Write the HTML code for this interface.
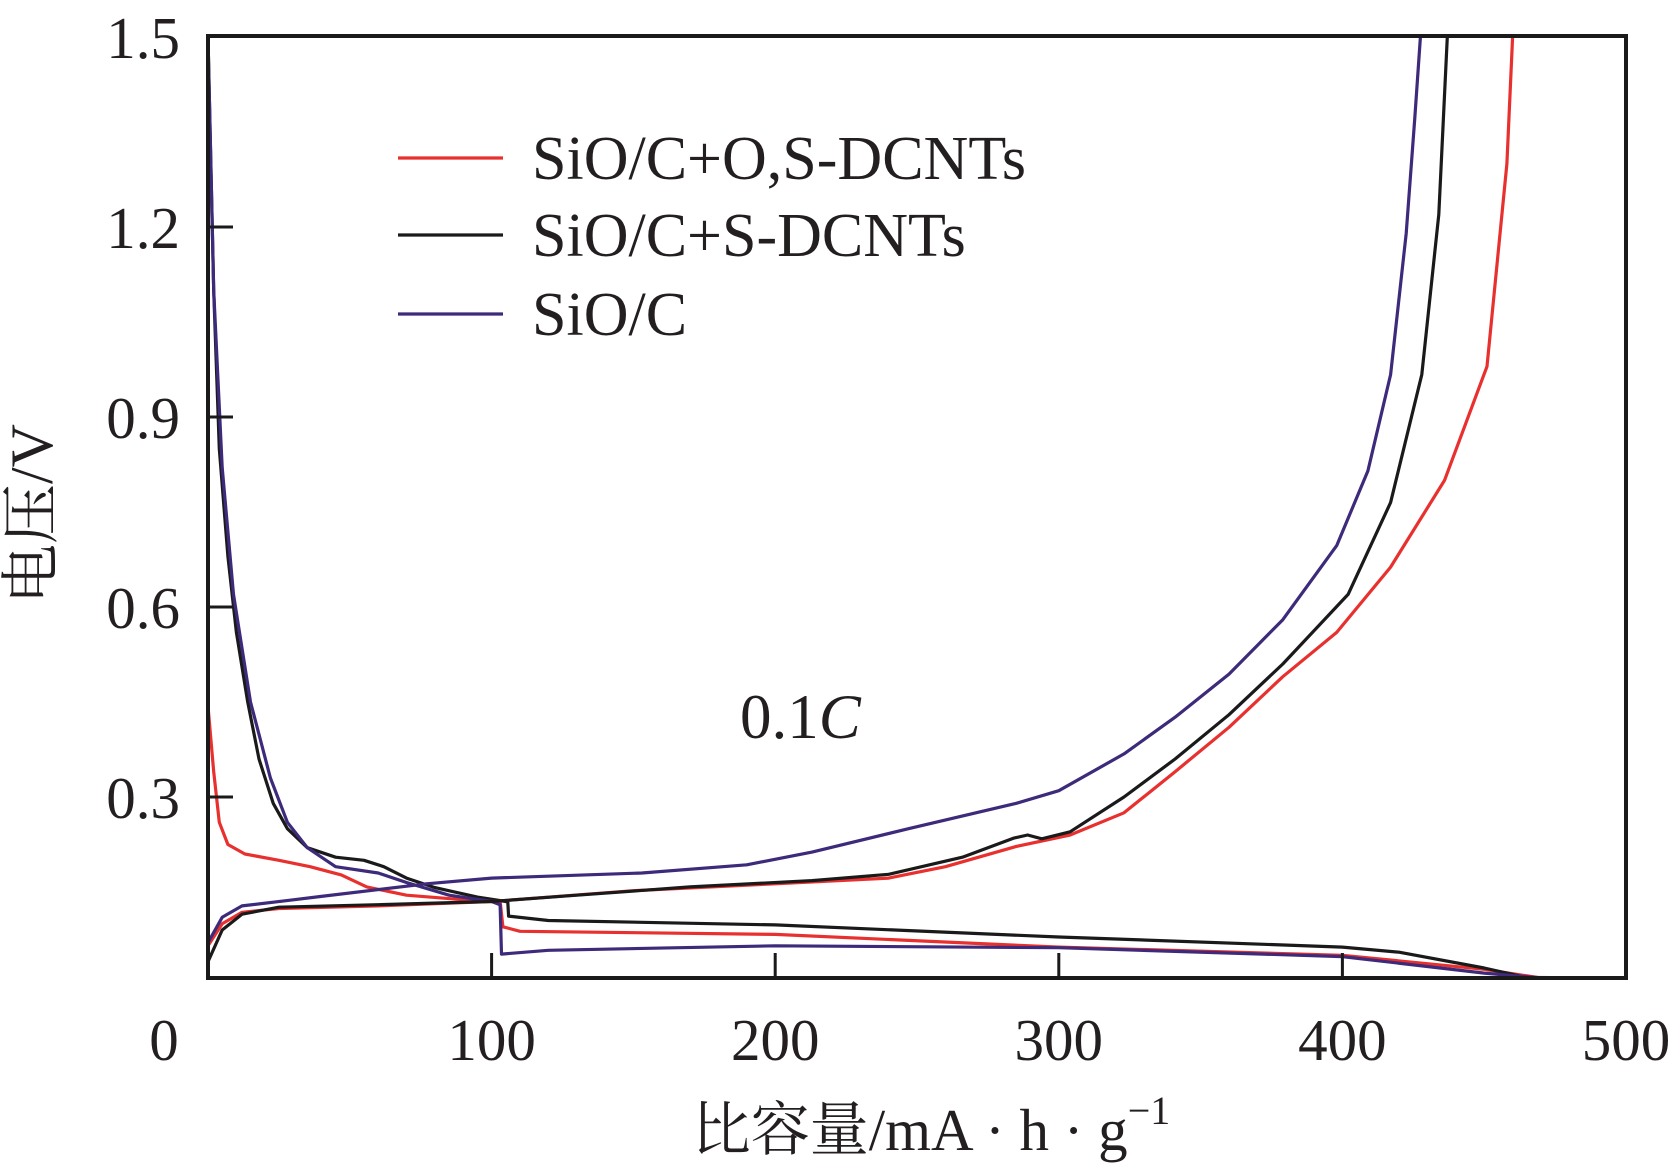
<!DOCTYPE html>
<html><head><meta charset="utf-8"><style>
body{margin:0;background:#fff}
svg text{font-family:"Liberation Serif","Noto Serif CJK SC",serif;fill:#231f20}
</style></head><body>
<svg id="chart" width="1678" height="1167" viewBox="0 0 1678 1167" xmlns="http://www.w3.org/2000/svg" style="position:absolute;left:0;top:0">
<g id="plot"></g>
<g id="axes"></g>
</svg>
<script>
const xTicks=[0,100,200,300,400,500];
const yTicks=[0.3,0.6,0.9,1.2,1.5];
const yTickLabels=["0.3","0.6","0.9","1.2","1.5"];
const redDis=[[0,0.443],[2,0.34],[4,0.26],[7,0.225],[13,0.21],[25,0.2],[36,0.19],[47,0.177],[56,0.158],[70,0.145],[92,0.137],[103,0.136],[104,0.095],[110,0.088],[200,0.083],[300,0.063],[400,0.05],[450,0.028],[470,0.012],[500,0.012]];
const blackDis=[[0,1.5],[2,1.1],[4,0.85],[7,0.68],[10,0.56],[14,0.45],[18,0.36],[23,0.29],[28,0.25],[35,0.22],[45,0.205],[55,0.2],[62,0.19],[70,0.172],[80,0.157],[95,0.142],[105,0.135],[105.7,0.134],[106,0.112],[120,0.105],[200,0.098],[300,0.079],[400,0.063],[420,0.055],[450,0.03],[465,0.015],[500,0.012]];
const purpleDis=[[0,1.5],[2,1.1],[5,0.82],[9,0.62],[15,0.45],[22,0.33],[28,0.26],[35,0.22],[45,0.19],[60,0.18],[70,0.165],[85,0.145],[100,0.135],[103,0.13],[103.5,0.052],[120,0.058],[200,0.065],[300,0.062],[400,0.048],[450,0.022],[470,0.012],[500,0.012]];
const redChg=[[0,0.065],[5,0.1],[12,0.118],[25,0.124],[60,0.128],[100,0.135],[150,0.152],[200,0.163],[240,0.172],[260,0.19],[285,0.222],[304,0.24],[323,0.275],[341,0.34],[360,0.41],[379,0.49],[398,0.56],[417,0.663],[436,0.8],[451,0.98],[458,1.3],[460,1.5]];
const blackChg=[[0,0.04],[5,0.09],[12,0.115],[25,0.126],[60,0.13],[100,0.135],[130,0.145],[170,0.158],[213,0.168],[240,0.178],[266,0.205],[284,0.235],[289,0.24],[294,0.234],[304,0.245],[323,0.3],[341,0.36],[360,0.43],[379,0.51],[402,0.62],[417,0.765],[428,0.967],[434,1.22],[437,1.5]];
const purpleChg=[[0,0.07],[5,0.11],[12,0.128],[29,0.137],[40,0.143],[77,0.163],[100,0.172],[153,0.18],[190,0.193],[213,0.213],[247,0.25],[285,0.29],[300,0.31],[323,0.368],[341,0.426],[360,0.494],[379,0.58],[398,0.697],[409,0.815],[417,0.967],[422.5,1.19],[425.5,1.37],[427.5,1.5]];
const seriesNames=["SiO/C+O,S-DCNTs","SiO/C+S-DCNTs","SiO/C"];
const seriesColors=["#e8312f","#1a1a1a","#3d2a7a"];

const L=208,R=1626,T=36,B=978;
const X=c=>L+(c/500)*(R-L);
const Y=v=>987-v*633.3;
const NS="http://www.w3.org/2000/svg";
const plot=document.getElementById('plot'),axes=document.getElementById('axes');
function mk(tag,attrs,parent){const e=document.createElementNS(NS,tag);for(const k in attrs)e.setAttribute(k,attrs[k]);parent.appendChild(e);return e;}
function line(data,color,name){
  const d=data.map((p,i)=>(i?'L':'M')+X(p[0]).toFixed(1)+','+Math.max(T,Math.min(B,Y(p[1]))).toFixed(1)).join(' ');
  const p=mk('path',{d:d,fill:'none',stroke:color,'stroke-width':3.2,'stroke-linejoin':'round'},plot);
  
  
}
line(redDis,seriesColors[0],'red-discharge-curve');
line(blackDis,seriesColors[1],'black-discharge-curve');
line(purpleDis,seriesColors[2],'purple-discharge-curve');
line(redChg,seriesColors[0],'red-charge-curve');
line(blackChg,seriesColors[1],'black-charge-curve');
line(purpleChg,seriesColors[2],'purple-charge-curve');

const fr=mk('rect',{x:L,y:T,width:R-L,height:B-T,fill:'none',stroke:'#1a1a1a','stroke-width':4},axes);


xTicks.forEach(t=>{
  if(t>0&&t<500){const tk=mk('line',{x1:X(t),x2:X(t),y1:B,y2:B-25,stroke:'#1a1a1a','stroke-width':3},axes);
  
  }
  const tx=mk('text',{x:t===0?164:X(t),y:1060,'font-size':59,'text-anchor':'middle'},axes);
  tx.textContent=String(t);
  
  
});
yTicks.forEach((t,i)=>{
  if(t<1.5){const tk=mk('line',{x1:L,x2:L+25,y1:Y(t),y2:Y(t),stroke:'#1a1a1a','stroke-width':3},axes);
  
  }
  const tx=mk('text',{x:180,y:Y(t)+21,'font-size':59,'text-anchor':'end'},axes);
  tx.textContent=yTickLabels[i];
  
  
});
const legY=[158,235,314];
seriesNames.forEach((n,i)=>{
  const ln=mk('line',{x1:398,x2:503,y1:legY[i],y2:legY[i],stroke:seriesColors[i],'stroke-width':3.2},axes);
  
  
  const tx=mk('text',{x:532,y:legY[i]+21,'font-size':62},axes);
  tx.textContent=n;
  
  
});
</script>
<svg style="position:absolute;left:0;top:0" width="1678" height="1167">
<text x="740" y="738" font-size="63" style="font-family:'Liberation Serif',serif;fill:#231f20">0.1<tspan font-style="italic">C</tspan></text>
<text transform="translate(52,514) rotate(-90)" text-anchor="middle" font-size="60" style="font-family:'Liberation Serif','Noto Serif CJK SC',serif;fill:#231f20">电压/V</text>
<text x="931" y="1150" text-anchor="middle" font-size="59" style="font-family:'Liberation Serif','Noto Serif CJK SC',serif;fill:#231f20">比容量/mA · h · g<tspan dy="-26" font-size="40">−1</tspan></text>
</svg>
</body></html>
